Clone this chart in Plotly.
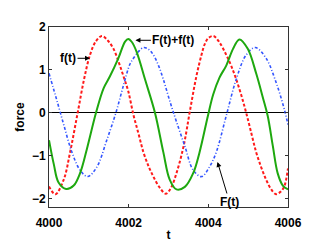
import plotly.graph_objects as go

# ---- data (t in seconds, force values) ----
t_f = [4000.00, 4000.16, 4000.37, 4000.53, 4000.72, 4000.88, 4001.03, 4001.18, 4001.33,
       4001.48, 4001.62, 4001.75, 4001.87, 4001.99, 4002.12, 4002.25, 4002.37, 4002.50,
       4002.62, 4002.78, 4002.93, 4003.07, 4003.20, 4003.31, 4003.41, 4003.53, 4003.70,
       4003.82, 4003.91, 4004.00, 4004.13, 4004.28, 4004.45, 4004.58, 4004.70, 4004.83,
       4004.95, 4005.08, 4005.20, 4005.33, 4005.45, 4005.58, 4005.70, 4005.82, 4005.91,
       4006.00]
f_vals = [-1.72, -1.90, -1.56, -0.92, 0.00, 0.78, 1.35, 1.67, 1.79,
          1.68, 1.49, 1.18, 0.85, 0.50, -0.05, -0.50, -0.92, -1.25,
          -1.49, -1.75, -1.89, -1.74, -1.41, -1.05, -0.64, 0.00, 0.85,
          1.32, 1.60, 1.74, 1.79, 1.64, 1.35, 1.08, 0.78, 0.40,
          0.00, -0.48, -0.92, -1.28, -1.56, -1.79, -1.90, -1.84, -1.71,
          -1.30]

t_F = [4000.00, 4000.10, 4000.20, 4000.37, 4000.575, 4000.78, 4000.97, 4001.20, 4001.45,
       4001.68, 4001.87, 4002.03, 4002.12, 4002.25, 4002.37, 4002.50, 4002.62, 4002.75,
       4002.87, 4003.03, 4003.20, 4003.41, 4003.62, 4003.83, 4004.03, 4004.20, 4004.45,
       4004.70, 4004.95, 4005.18, 4005.45, 4005.70, 4005.91, 4006.00]
F_vals = [0.92, 0.60, 0.28, -0.28, -0.92, -1.34, -1.49, -1.27, -0.64,
          0.00, 0.64, 1.13, 1.27, 1.43, 1.52, 1.48, 1.35, 1.10,
          0.78, 0.28, -0.21, -0.78, -1.34, -1.49, -1.26, -0.92, -0.07,
          0.78, 1.35, 1.52, 1.27, 0.71, 0.07, -0.28]

t_sum = [4000.00, 4000.12, 4000.24, 4000.43, 4000.62, 4000.78, 4000.95, 4001.18, 4001.37,
         4001.53, 4001.74, 4001.91, 4001.99, 4002.08, 4002.20, 4002.41, 4002.66, 4002.87,
         4003.03, 4003.20, 4003.41, 4003.62, 4003.78, 4003.99, 4004.12, 4004.28, 4004.45,
         4004.62, 4004.78, 4004.99, 4005.20, 4005.37, 4005.49, 4005.62, 4005.74, 4005.87,
         4006.00]
sum_vals = [-0.64, -1.20, -1.63, -1.78, -1.70, -1.41, -0.85, 0.00, 0.57,
            0.85, 1.27, 1.66, 1.72, 1.65, 1.42, 0.78, 0.00, -0.92,
            -1.56, -1.79, -1.73, -1.41, -0.92, -0.07, 0.42, 0.82, 1.10,
            1.49, 1.71, 1.49, 0.92, 0.35, -0.07, -0.78, -1.41, -1.70,
            -1.79]

x_ticks = [4000, 4002, 4004, 4006]
y_ticks = [-2, -1, 0, 1, 2]

FONT = "Liberation Sans, Arial, Helvetica, sans-serif"

fig = go.Figure()
fig.add_trace(go.Scatter(x=t_f, y=f_vals, mode="lines", name="f(t)",
                         line=dict(color="#ff1a1a", width=2, dash="3px,2px", shape="spline")))
fig.add_trace(go.Scatter(x=t_F, y=F_vals, mode="lines", name="F(t)",
                         line=dict(color="#3355ff", width=1.6, dash="3px,2px,1px,2px", shape="spline")))
fig.add_trace(go.Scatter(x=t_sum, y=sum_vals, mode="lines", name="F(t)+f(t)",
                         line=dict(color="#1ea80f", width=2, shape="spline")))

ann_font = dict(family=FONT, size=12, color="black", weight="bold")
fig.add_annotation(x=4001.03, y=1.27, text="f(t)", ax=-22, ay=0, showarrow=True,
                   arrowhead=2, arrowsize=1, arrowwidth=1, arrowcolor="black", font=ann_font)
fig.add_annotation(x=4002.17, y=1.69, text="F(t)+f(t)", ax=38, ay=0, showarrow=True,
                   arrowhead=2, arrowsize=1, arrowwidth=1, arrowcolor="black", font=ann_font)
fig.add_annotation(x=4004.23, y=-1.15, text="F(t)", ax=12, ay=40, showarrow=True,
                   arrowhead=2, arrowsize=1, arrowwidth=1, arrowcolor="black", font=ann_font)

axis_common = dict(showline=True, mirror="ticks", linecolor="#333333", linewidth=1,
                   ticks="inside", ticklen=3, tickcolor="#333333", showgrid=False,
                   tickfont=dict(family=FONT, size=12, color="black", weight="bold"))

fig.update_layout(
    width=310, height=244,
    margin=dict(l=40, r=30, t=18, b=27),
    paper_bgcolor="white", plot_bgcolor="white",
    showlegend=False,
    xaxis=dict(range=[4000, 4006], tickvals=x_ticks, zeroline=False, ticklabelstandoff=5,
               title=dict(text="t", standoff=1,
                          font=dict(family=FONT, size=12, color="black", weight="bold")),
               **axis_common),
    yaxis=dict(range=[-2.2, 2], tickvals=y_ticks, zeroline=True, zerolinecolor="black",
               zerolinewidth=1,
               title=dict(text="force", standoff=4,
                          font=dict(family=FONT, size=12, color="black", weight="bold")),
               **axis_common),
)

fig.write_html("out.html")
